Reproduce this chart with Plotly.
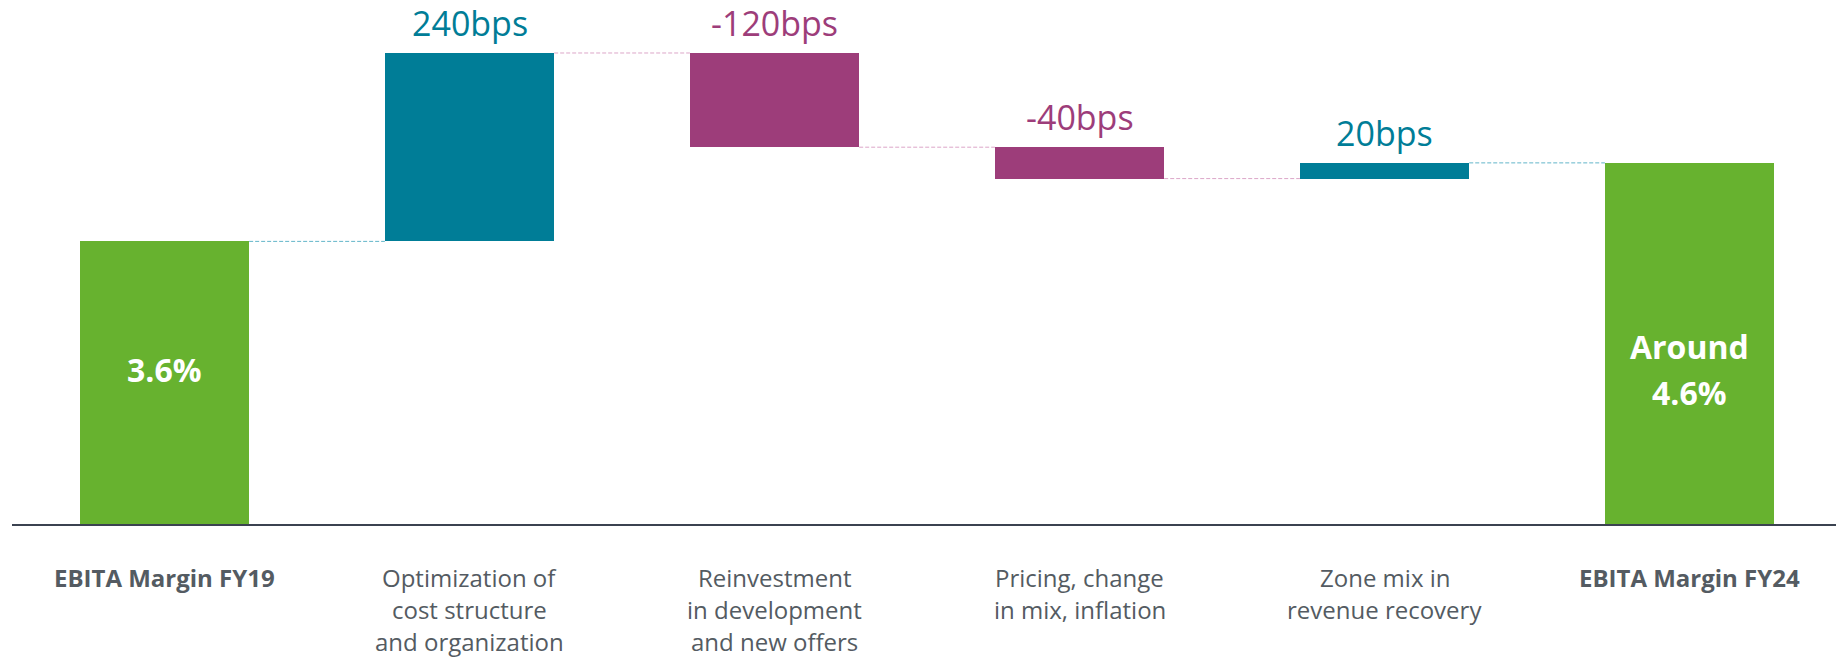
import plotly.graph_objects as go

# EBITA margin bridge FY19 -> FY24 (percentage points)
categories = [
    "EBITA Margin FY19",
    "Optimization of\ncost structure\nand organization",
    "Reinvestment\nin development\nand new offers",
    "Pricing, change\nin mix, inflation",
    "Zone mix in\nrevenue recovery",
    "EBITA Margin FY24",
]
kinds = ["total", "delta", "delta", "delta", "delta", "total"]
values = [3.6, 2.4, -1.2, -0.4, 0.2, 4.6]
total_prefixes = {0: "", 5: "Around"}

# styling
GREEN = "#67B22F"
TEAL = "#007D97"
MAGENTA = "#9D3D7A"
TEAL_LIGHT = "#62B5C9"
PINK_LIGHT = "#DCA6C8"
LABEL_GRAY = "#545B62"
FONT = "Open Sans"
connector_colors = [TEAL_LIGHT, PINK_LIGHT, PINK_LIGHT, PINK_LIGHT, TEAL_LIGHT]
BAR_W = 0.555

# floating bar geometry from the running level
bases, heights, colors, levels, tops = [], [], [], [], []
level = 0.0
for kind, v in zip(kinds, values):
    if kind == "total":
        base, h = 0.0, v
        level = v
        col = GREEN
    else:
        start, end = level, level + v
        base, h = min(start, end), abs(v)
        level = end
        col = TEAL if v > 0 else MAGENTA
    bases.append(base)
    heights.append(h)
    colors.append(col)
    levels.append(level)
    tops.append(base + h)

xs = list(range(len(categories)))

fig = go.Figure()
fig.add_trace(go.Bar(
    x=xs, y=heights, base=bases, width=BAR_W,
    marker=dict(color=colors, line=dict(width=0)),
    hoverinfo="skip", showlegend=False,
))

# dashed connectors between consecutive bars
for i in range(len(xs) - 1):
    fig.add_trace(go.Scatter(
        x=[xs[i] + BAR_W / 2, xs[i + 1] - BAR_W / 2],
        y=[levels[i], levels[i]],
        mode="lines",
        line=dict(color=connector_colors[i], width=1, dash="4px,2px"),
        hoverinfo="skip", showlegend=False,
    ))

annotations = []

# change labels above delta bars
for i, (kind, v) in enumerate(zip(kinds, values)):
    if kind != "delta":
        continue
    annotations.append(dict(
        x=xs[i], y=tops[i], xref="x", yref="y",
        text=f"{round(v * 100):d}bps",
        showarrow=False, yanchor="middle", yshift=30,
        font=dict(family=FONT, size=34, color=TEAL if v > 0 else MAGENTA),
    ))

# total labels inside the green bars
for i, (kind, v) in enumerate(zip(kinds, values)):
    if kind != "total":
        continue
    lines = [t for t in [total_prefixes.get(i, ""), f"{v:.1f}%"] if t]
    n = len(lines)
    for k, t in enumerate(lines):
        annotations.append(dict(
            x=xs[i], y=1.97, xref="x", yref="y",
            text=f"<b>{t}</b>",
            showarrow=False, yanchor="middle",
            yshift=-(k - (n - 1) / 2) * 46,
            font=dict(family=FONT, size=32, color="white"),
        ))

# category labels under the axis, one annotation per line
for i, (cat, kind) in enumerate(zip(categories, kinds)):
    for k, line in enumerate(cat.split("\n")):
        annotations.append(dict(
            x=xs[i], y=0, xref="x", yref="y",
            text=f"<b>{line}</b>" if kind == "total" else line,
            showarrow=False, yanchor="middle",
            yshift=-(53 + 32 * k),
            font=dict(family=FONT, size=24, color=LABEL_GRAY),
        ))

fig.update_layout(
    width=1836, height=659,
    margin=dict(l=12, r=0, t=0, b=135),
    paper_bgcolor="white", plot_bgcolor="white",
    annotations=annotations,
    xaxis=dict(
        range=[-0.5, 5.48], showgrid=False, zeroline=False,
        showticklabels=False, ticks="",
        showline=True, linecolor="#3B4250", linewidth=2,
    ),
    yaxis=dict(
        range=[0, 6.675], showgrid=False, zeroline=False,
        showticklabels=False, ticks="", showline=False,
    ),
    bargap=0,
)

fig.write_html("out.html")
